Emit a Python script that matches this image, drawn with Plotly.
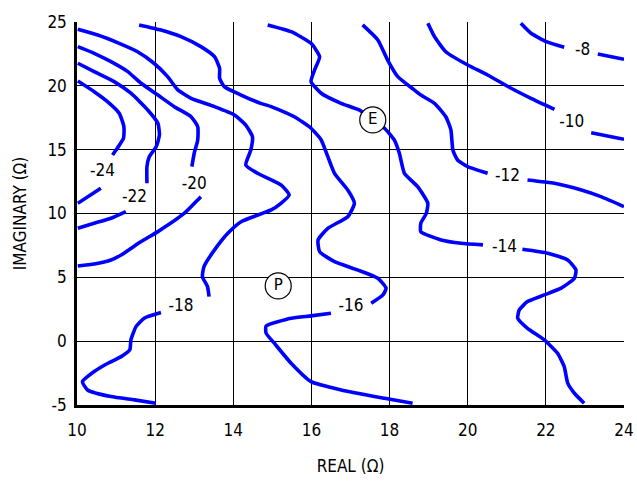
import plotly.graph_objects as go

# Contour curves (REAL, IMAGINARY) in ohms; None marks gaps where labels sit
c24_x = [10.02, 10.44, 10.78, 11.08, 11.20, 11.19, 11.03, 10.91, None, 10.61, 10.02]
c24_y = [20.38, 19.54, 18.76, 17.85, 16.80, 15.89, 15.11, 14.58, None, 11.98, 10.80]

c22_x = [10.02, 10.44, 10.95, 11.38, 11.81, 12.07, 12.11, 12.03, 11.85, 11.79, 11.79, None,
         11.25, 10.87, 10.44, 10.02]
c22_y = [21.77, 21.11, 20.33, 19.42, 18.11, 17.07, 16.15, 15.24, 14.45, 13.67, 12.37, None,
         10.15, 9.63, 9.24, 8.85]

c20_x = [10.02, 10.44, 10.87, 11.30, 11.64, 12.07, 12.49, 12.92, 13.09, 13.09, 13.00, 12.94, None,
         13.17, 13.09, 12.75, 12.07, 11.64, 11.13, 10.87, 10.44, 10.02]
c20_y = [23.07, 22.55, 21.89, 21.11, 20.20, 19.28, 18.37, 17.58, 16.80, 15.76, 14.72, 13.67, None,
         11.32, 11.06, 10.02, 8.58, 7.80, 6.75, 6.36, 6.05, 5.89]

c18_x = [10.02, 10.53, 11.08, 11.55, 11.97, 12.32, 12.58, 12.92, 13.52, 14.03, 14.32, 14.49, 14.45,
         14.32, 14.62, 15.22, 15.43, 15.22, 14.97, 14.20, 13.86, 13.52, 13.25, 13.21, 13.34, 13.38,
         None, 12.15, 11.72, 11.51, 11.38, 11.35, 11.13, 10.79, 10.44, 10.14, 10.27, 10.87, 11.47, 12.02]
c18_y = [24.43, 23.98, 23.33, 22.67, 21.77, 20.72, 19.68, 19.02, 18.37, 17.72, 16.93, 16.02, 14.98,
         13.80, 13.15, 12.24, 11.45, 10.80, 10.28, 9.36, 8.45, 7.15, 5.84, 5.05, 4.27, 3.49,
         None, 2.24, 1.80, 1.14, 0.10, -0.69, -1.21, -1.73, -2.38, -3.17, -3.82, -4.34, -4.60, -4.86]

c16_x = [11.59, 12.15, 12.66, 13.17, 13.52, 13.65, 13.65, 13.77, 14.20, 14.70, 14.97, 15.56, 15.99,
         16.25, 16.42, 16.59, 16.93, 17.10, 16.93, 16.42, 16.17, 16.21, 16.59, 17.18, 17.70, 17.91,
         17.83, 17.53, None, 16.50, 15.99, 15.48, 14.84, 14.84, 15.05, 15.48, 15.99, 16.76, 17.87, 18.59]
c16_y = [24.77, 24.37, 23.85, 23.07, 22.28, 21.37, 20.59, 19.94, 19.28, 18.63, 18.37, 17.58, 16.68,
         15.76, 14.45, 13.15, 11.84, 10.80, 9.75, 8.84, 7.93, 7.01, 6.23, 5.58, 4.93, 4.15,
         3.62, 2.97, None, 2.19, 1.98, 1.80, 1.19, 0.62, -0.16, -1.73, -3.17, -3.82, -4.47, -4.86]

c14_x = [14.88, 15.48, 15.99, 16.21, 16.08, 15.99, 16.25, 16.76, 17.22, 17.57, 17.87, 18.12, 18.25,
         18.38, 18.72, 18.98, 18.94, 18.80, 18.80, 19.32, 19.83, 20.39, None, 21.40, 22.05, 22.56,
         22.77, 22.73, 22.39, 21.96, 21.53, 21.32, 21.28, 21.53, 21.96, 22.30, 22.47, 22.56, 22.73, 22.98]
c14_y = [24.77, 24.24, 23.33, 22.28, 21.24, 20.33, 19.42, 18.63, 18.11, 17.33, 16.68, 15.76, 14.72,
         13.15, 12.10, 10.80, 10.02, 9.24, 8.58, 7.93, 7.67, 7.54, None, 7.20, 6.89, 6.36,
         5.58, 4.93, 4.15, 3.62, 3.10, 2.45, 1.80, 1.01, 0.10, -0.95, -1.99, -3.29, -4.08, -4.86]

c12_x = [17.31, 17.70, 17.95, 18.21, 18.63, 18.80, 19.15, 19.44, 19.57, 19.62, 19.74, 20.00, 20.51,
         None, 21.53, 22.22, 22.91, 23.41, 24.00]
c12_y = [24.77, 23.59, 22.02, 20.72, 19.68, 19.28, 18.63, 17.58, 16.54, 14.98, 14.19, 13.67, 13.15,
         None, 12.63, 12.37, 11.84, 11.32, 10.54]

c10_x = [18.98, 19.15, 19.44, 20.00, 20.51, 21.11, 21.62, 22.22, None, 23.16, 24.00]
c10_y = [24.90, 23.85, 22.67, 21.63, 20.85, 19.81, 19.02, 18.16, None, 16.33, 15.81]

c8_x = [21.36, 21.62, 22.01, 22.47, None, 23.33, 24.00]
c8_y = [24.90, 24.12, 23.46, 23.02, None, 22.49, 22.08]

curves = [(c24_x, c24_y), (c22_x, c22_y), (c20_x, c20_y), (c18_x, c18_y), (c16_x, c16_y),
          (c14_x, c14_y), (c12_x, c12_y), (c10_x, c10_y), (c8_x, c8_y)]

label_text = ["-24", "-22", "-20", "-18", "-16", "-14", "-12", "-10", "-8"]
label_x = [10.65, 11.47, 13.00, 12.66, 17.01, 20.94, 21.02, 22.66, 22.94]
label_y = [13.25, 11.26, 12.27, 2.68, 2.71, 7.28, 12.89, 17.11, 22.75]

point_text = ["E", "P"]
point_x = [17.57, 15.15]
point_y = [17.33, 4.33]

x_ticks = [10, 12, 14, 16, 18, 20, 22, 24]
y_ticks = [-5, 0, 5, 10, 15, 20, 25]

FONT = "DejaVu Sans Condensed, Liberation Sans Narrow, Arial Narrow, Liberation Sans, Arial, sans-serif"

fig = go.Figure()
for cx, cy in curves:
    fig.add_trace(go.Scatter(x=cx, y=cy, mode="lines", connectgaps=False,
                             line=dict(color="#0000ff", width=3.6, shape="spline", smoothing=0.5),
                             hoverinfo="skip", showlegend=False))

fig.add_trace(go.Scatter(x=label_x, y=label_y, mode="text", text=label_text,
                         textfont=dict(family=FONT, size=17, color="black"),
                         showlegend=False, hoverinfo="skip"))

fig.add_trace(go.Scatter(x=point_x, y=point_y, mode="markers+text", text=point_text,
                         textposition="middle center",
                         marker=dict(symbol="circle", size=26, color="white",
                                     line=dict(color="black", width=1.2)),
                         textfont=dict(family="DejaVu Sans, sans-serif", size=15, color="black"),
                         showlegend=False, hoverinfo="skip"))

fig.update_layout(
    width=637, height=486,
    margin=dict(l=77, r=13, t=22, b=81),
    paper_bgcolor="white", plot_bgcolor="white",
    font=dict(family=FONT, size=17, color="black"),
)
fig.update_xaxes(range=[10, 24], tickvals=x_ticks, ticktext=[str(v) for v in x_ticks],
                 showgrid=True, gridcolor="black", gridwidth=1.2, zeroline=False,
                 showline=True, linecolor="black", linewidth=2.5, mirror=False,
                 ticks="", ticklabelstandoff=8, automargin=False,
                 title=dict(text="REAL (Ω)", font=dict(family=FONT, size=17), standoff=21))
fig.update_yaxes(range=[-5, 25], tickvals=y_ticks, ticktext=[str(v) for v in y_ticks],
                 showgrid=True, gridcolor="black", gridwidth=1.2, zeroline=False,
                 showline=True, linecolor="black", linewidth=2.5, mirror=False,
                 ticks="", ticklabelstandoff=4, automargin=False,
                 title=dict(text="IMAGINARY (Ω)", font=dict(family=FONT, size=17), standoff=17))

fig.write_html("out.html", config={"displayModeBar": False},
               post_script="document.body.style.margin='0';document.body.style.overflow='hidden';")
